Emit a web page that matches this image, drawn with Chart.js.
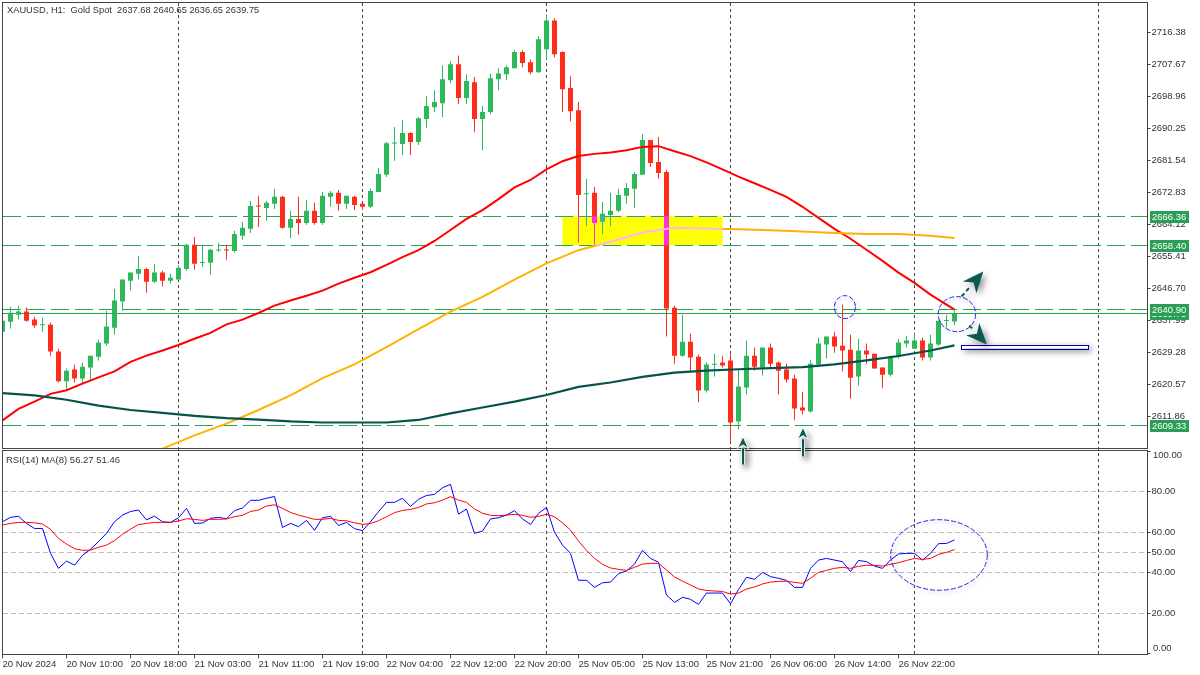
<!DOCTYPE html>
<html>
<head>
<meta charset="utf-8">
<title>XAUUSD H1</title>
<script src="https://cdn.jsdelivr.net/npm/chart.js@4/dist/chart.umd.min.js"></script>
<style>
html, body { margin: 0; padding: 0; background: #fff; }
#wrap { width: 1200px; height: 675px; }
</style>
</head>
<body>
<div id="wrap"><canvas id="chart" width="1200" height="675"></canvas></div>
<script>
// x axis, one label every 8 bars
const timeLabels = ["20 Nov 2024", "20 Nov 10:00", "20 Nov 18:00", "21 Nov 03:00", "21 Nov 11:00", "21 Nov 19:00", "22 Nov 04:00", "22 Nov 12:00", "22 Nov 20:00", "25 Nov 05:00", "25 Nov 13:00", "25 Nov 21:00", "26 Nov 06:00", "26 Nov 14:00", "26 Nov 22:00"]
const priceTicks = [2716.38, 2707.67, 2698.96, 2690.25, 2681.54, 2672.83, 2664.12, 2655.41, 2646.70, 2637.99, 2629.28, 2620.57, 2611.86]
const rsiTicks = [100, 80, 60, 50, 40, 20, 0]
const rsiLevels = [80, 60, 50, 40, 20]
const gridBars = [22, 45, 68, 91, 114, 137]

const barOpen = [2634.9,2637.6,2639.5,2640.4,2638.2,2636.7,2636.8,2629.5,2621.4,2624.6,
2622.2,2625.2,2628.1,2631.7,2636.0,2643.1,2648.8,2650.7,2652.0,2648.5,
2651.0,2648.8,2649.1,2652.0,2658.6,2653.6,2653.7,2657.0,2657.1,2656.9,
2661.0,2662.9,2669.1,2668.6,2669.7,2671.6,2663.2,2665.6,2664.5,2667.8,
2664.5,2671.6,2672.7,2669.7,2671.6,2669.7,2668.9,2672.9,2677.6,2686.1,
2686.0,2689.0,2686.5,2692.8,2696.0,2697.1,2703.3,2707.7,2698.5,2702.8,
2692.8,2694.7,2703.6,2705.0,2706.6,2711.0,2708.2,2705.5,2711.8,2719.6,
2711.0,2701.2,2695.2,2672.3,2672.7,2664.8,2666.7,2667.8,2671.9,2673.8,
2677.6,2687.1,2681.1,2678.4,2641.4,2628.4,2632.2,2628.1,2618.9,2625.9,
2626.5,2627.1,2610.5,2619.7,2628.4,2625.2,2630.6,2626.5,2624.6,2622.2,
2614.3,2613.2,2626.0,2631.4,2633.6,2631.1,2630.0,2622.7,2629.8,2628.9,
2625.2,2623.2,2628.1,2631.7,2630.3,2632.5,2627.9,2631.4,2637.8,2637.68]
const barHigh = [2638.2,2641.7,2642.0,2641.5,2639.0,2638.7,2637.4,2630.3,2624.9,2626.0,
2626.5,2628.4,2632.8,2640.6,2646.6,2649.1,2651.0,2655.6,2652.3,2653.4,
2651.5,2650.7,2653.1,2658.8,2660.7,2658.6,2657.5,2659.1,2658.6,2662.4,
2664.8,2670.5,2671.9,2670.5,2673.8,2671.9,2667.8,2671.6,2670.8,2670.0,
2672.9,2673.2,2673.5,2671.9,2671.9,2669.7,2673.8,2679.5,2686.5,2690.6,
2692.5,2689.2,2693.3,2699.0,2700.6,2707.4,2708.5,2710.1,2705.0,2704.2,
2696.3,2705.2,2706.6,2707.4,2711.5,2711.5,2709.0,2715.3,2721.3,2720.2,
2711.2,2704.4,2697.4,2676.5,2674.3,2670.2,2672.7,2673.8,2675.4,2678.4,
2688.7,2687.1,2687.9,2678.9,2642.0,2639.5,2634.4,2628.7,2626.5,2628.9,
2628.4,2628.7,2624.6,2632.5,2630.6,2630.6,2631.7,2626.8,2626.2,2623.2,
2618.6,2627.3,2633.3,2633.6,2634.9,2642.3,2634.1,2633.0,2631.7,2628.9,
2625.2,2628.4,2633.0,2633.8,2634.7,2633.3,2634.1,2637.9,2639.5,2640.65]
const barLow = [2634.9,2635.8,2638.2,2637.6,2636.0,2634.9,2628.4,2621.1,2619.2,2621.1,
2620.8,2621.6,2627.1,2631.1,2634.1,2640.6,2646.1,2649.1,2645.5,2648.2,
2647.2,2648.0,2649.0,2651.5,2651.8,2652.6,2650.4,2656.6,2654.5,2656.4,
2659.9,2661.8,2663.4,2665.1,2668.3,2662.9,2660.4,2661.3,2664.0,2664.0,
2664.0,2668.9,2667.8,2668.3,2668.0,2668.0,2668.6,2672.9,2677.0,2681.4,
2683.0,2683.0,2685.7,2690.3,2694.7,2693.3,2702.5,2696.8,2696.8,2689.2,
2684.3,2694.1,2700.6,2703.4,2706.6,2706.9,2705.0,2705.4,2709.0,2709.6,
2694.7,2692.2,2659.1,2663.7,2658.6,2661.5,2663.7,2667.5,2669.7,2668.6,
2677.6,2679.7,2676.5,2633.6,2626.2,2628.1,2624.1,2615.7,2618.4,2622.7,
2625.2,2604.8,2608.3,2617.8,2624.3,2623.0,2625.2,2617.8,2621.1,2610.8,
2612.4,2612.9,2626.0,2627.6,2629.2,2624.1,2616.7,2620.3,2626.2,2624.9,
2619.5,2622.7,2627.6,2630.6,2630.3,2627.1,2627.1,2631.1,2636.0,2636.65]
const barClose = [2637.9,2640.1,2640.4,2637.9,2636.6,2636.8,2629.5,2621.4,2624.3,2622.2,
2625.4,2628.4,2632.0,2636.3,2643.4,2649.1,2651.0,2652.0,2648.5,2651.0,
2648.8,2649.6,2652.3,2658.6,2653.4,2653.7,2657.2,2657.1,2657.0,2661.5,
2663.2,2669.1,2669.0,2670.0,2671.6,2663.2,2665.6,2664.5,2667.8,2664.5,
2671.9,2672.7,2669.7,2671.9,2669.4,2668.9,2673.2,2677.8,2686.2,2686.2,
2689.0,2686.5,2693.0,2696.3,2697.4,2703.6,2707.7,2698.5,2703.1,2692.8,
2694.7,2703.9,2705.2,2706.9,2711.0,2708.0,2705.5,2714.5,2719.6,2710.4,
2700.9,2694.9,2672.1,2672.4,2664.5,2667.0,2667.8,2672.1,2674.0,2677.8,
2687.1,2680.8,2678.1,2641.2,2628.4,2632.2,2627.9,2618.9,2626.0,2626.0,
2625.7,2610.2,2620.0,2628.4,2625.4,2630.6,2626.2,2624.3,2621.9,2614.0,
2613.5,2626.2,2631.7,2633.6,2630.9,2629.8,2622.4,2629.8,2628.7,2624.9,
2623.2,2628.1,2632.0,2632.5,2632.5,2627.9,2631.7,2637.9,2637.9,2639.75]

// moving averages, every few bars
const maRedBars = [0,2,4,6,8,10,12,14,16,18,20,22,24,26,28,30,32,34,36,38,40,42,44,46,48,50,52,54,56,58,60,62,64,66,68,70,72,74,76,78,80,82,84,86,88,90,92,94,96,98,100,102,104,106,108,110,112,114,116,118,119]
const maRedValues = [2610.8,2613.9,2615.9,2618.0,2619.0,2620.8,2622.5,2624.1,2626.7,2628.4,2629.8,2631.3,2633.0,2634.6,2636.9,2638.2,2640.0,2642.0,2643.4,2644.7,2646.1,2648.0,2649.6,2651.1,2653.1,2655.2,2657.1,2659.6,2662.6,2665.6,2668.0,2671.0,2674.2,2676.2,2679.1,2681.3,2682.7,2683.3,2683.7,2684.3,2685.2,2685.4,2684.0,2682.7,2681.0,2679.1,2677.1,2675.3,2673.5,2671.6,2668.9,2665.9,2662.9,2660.2,2657.2,2654.2,2651.0,2648.2,2645.0,2642.3,2640.9]
const maOrangeBars = [20,24,28,32,36,40,44,48,52,56,60,64,68,72,76,80,84,88,92,96,100,104,108,112,116,119]
const maOrangeValues = [2603.1,2606.7,2609.9,2613.6,2617.6,2622.3,2626.0,2630.7,2635.6,2640.4,2644.4,2649.1,2653.5,2657.1,2659.4,2661.9,2663.2,2663.0,2662.8,2662.5,2662.2,2661.8,2661.5,2661.5,2661.0,2660.4]
const maDarkBars = [0,4,8,12,16,20,24,28,32,36,40,44,48,52,56,60,64,68,72,76,80,84,88,92,96,100,104,108,112,116,119]
const maDarkValues = [2618.2,2617.6,2616.4,2614.8,2613.6,2612.8,2612.0,2611.4,2611.0,2610.5,2610.2,2610.2,2610.2,2610.9,2612.7,2614.3,2615.9,2617.7,2619.9,2621.1,2622.6,2623.8,2624.3,2624.7,2625.0,2625.3,2626.0,2627.1,2628.3,2629.8,2631.2]

const rsiValues = [65.2,67.4,67.9,64.4,61.9,61.9,49.6,42.2,45.8,43.8,
48.6,51.6,55.4,59.5,65.2,68.5,70.3,71.0,66.1,68.0,
65.2,64.9,67.2,71.8,64.4,64.6,66.9,67.4,66.7,70.7,
72.0,75.8,75.8,76.8,77.7,62.4,64.4,62.8,65.9,61.0,
67.2,67.9,63.4,64.9,61.8,60.8,65.2,70.2,74.8,74.8,
76.8,72.8,76.3,78.2,78.7,82.0,83.7,69.0,71.5,59.5,
60.6,66.6,67.2,68.5,70.7,66.6,63.9,69.3,72.3,60.0,
53.7,49.6,36.3,36.3,32.8,35.1,35.4,39.6,40.9,44.3,
51.1,47.1,45.2,29.0,25.4,27.9,26.9,24.4,30.0,30.0,
30.0,24.7,31.7,37.8,36.8,40.2,38.1,37.3,36.3,32.8,
32.8,42.2,46.3,47.1,46.3,45.5,40.6,46.1,45.5,43.3,
42.2,46.3,49.3,49.6,49.6,46.3,49.6,54.4,54.5,56.27]
const rsiMaValues = [63.6,64.4,64.9,64.9,64.7,64.1,61.5,57.0,54.2,51.9,
51.1,51.2,52.6,53.7,55.9,59.0,61.6,63.8,64.4,64.9,
64.9,64.9,65.6,66.7,66.4,65.9,66.4,66.4,66.6,67.7,
68.4,70.3,71.0,73.0,73.6,71.8,69.8,68.5,67.5,66.4,
66.4,66.9,65.9,65.7,64.7,63.9,64.4,65.7,67.7,69.7,
70.8,71.3,72.3,74.0,74.6,75.9,77.6,75.9,74.8,71.5,
69.4,68.4,68.2,68.5,68.9,68.4,67.4,67.9,68.9,67.7,
64.7,61.1,55.7,51.1,47.1,44.2,42.4,41.7,41.2,42.7,
44.3,44.7,44.7,41.4,37.9,35.9,34.0,32.0,31.3,31.0,
30.8,29.5,30.0,32.0,33.0,34.5,35.4,35.8,35.8,35.3,
34.8,37.3,40.2,41.2,42.2,42.7,42.2,43.2,43.7,43.7,
43.3,44.2,45.0,46.1,47.1,46.6,47.1,49.1,50.1,51.46]

// drawn objects on the chart
const dashedLevels = [2666.36, 2658.40, 2640.90, 2609.33]
const bidLevel = 2639.75
const zoneBars = [70, 90]
const circleBars = [105.3, 119.3]
const circlePrices = [2641.6, 2639.7]
const rsiCircleBar = 117.06
const rsiCircleValue = 48.8
const shelfBars = [119.85, 135.7]
const shelfPrices = [2631.4, 2630.4]

const GREEN = "#2eb85c"
const RED = "#ff2d19"
const TEXT = "#333333"
const FONT = "'Liberation Sans'"
const FONT_SIZE = 9.5
const TOTAL_BARS = 144

const barLabels = []
for (let i = 0; i < TOTAL_BARS; i++) {
    barLabels.push(i % 8 == 0 && timeLabels[i / 8] ? timeLabels[i / 8] : "")
}

function sparse(bars, values) {
    const out = new Array(barOpen.length).fill(null)
    bars.forEach((b, k) => { out[b] = values[k] })
    return out
}

const candleColors = barOpen.map((o, i) => barClose[i] >= o ? GREEN : RED)

function drawArrow(ctx, x1, y1, x2, y2, headLen, headWide, halo) {
    const ang = Math.atan2(y2 - y1, x2 - x1)
    const bx = x2 - Math.cos(ang) * headLen
    const by = y2 - Math.sin(ang) * headLen
    const nx = -Math.sin(ang) * headWide / 2
    const ny = Math.cos(ang) * headWide / 2
    ctx.save()
    ctx.shadowColor = "rgba(0,0,0,0.45)"
    ctx.shadowBlur = 6
    ctx.shadowOffsetX = 3
    ctx.shadowOffsetY = 3
    if (halo) {
        ctx.strokeStyle = "#ffffff"
        ctx.lineWidth = 4
        ctx.beginPath()
        ctx.moveTo(x1, y1)
        ctx.lineTo(bx, by)
        ctx.stroke()
    }
    ctx.strokeStyle = "#0b5a50"
    ctx.lineWidth = 2
    if (!halo) ctx.setLineDash([4, 3])
    ctx.beginPath()
    ctx.moveTo(x1, y1)
    ctx.lineTo(bx, by)
    ctx.stroke()
    ctx.setLineDash([])
    ctx.fillStyle = "#0b5a50"
    ctx.beginPath()
    ctx.moveTo(x2, y2)
    ctx.lineTo(bx + nx, by + ny)
    ctx.lineTo(x2 - Math.cos(ang) * headLen * 0.7, y2 - Math.sin(ang) * headLen * 0.7)
    ctx.lineTo(bx - nx, by - ny)
    ctx.closePath()
    ctx.fill()
    if (halo) {
        ctx.shadowColor = "transparent"
        ctx.strokeStyle = "#ffffff"
        ctx.lineWidth = 1
        ctx.stroke()
    }
    ctx.restore()
}

function ellipse(ctx, cx, cy, rx, ry) {
    ctx.save()
    ctx.strokeStyle = "#2a2ae8"
    ctx.lineWidth = 1
    ctx.setLineDash([5, 2])
    ctx.shadowColor = "rgba(0,0,0,0.3)"
    ctx.shadowBlur = 4
    ctx.shadowOffsetX = 2
    ctx.shadowOffsetY = 2
    ctx.beginPath()
    ctx.ellipse(cx, cy, rx, ry, 0, 0, Math.PI * 2)
    ctx.stroke()
    ctx.restore()
}

function priceBox(ctx, y, value) {
    ctx.fillStyle = "#2a9d56"
    ctx.fillRect(1150, Math.floor(y) - 5, 39, 12)
    ctx.fillStyle = "#ffffff"
    ctx.font = FONT_SIZE + "px " + FONT
    ctx.textAlign = "left"
    ctx.textBaseline = "middle"
    ctx.fillText(value.toFixed(2), 1152, Math.floor(y) + 1)
}

function flatPadding(axis) {
    axis.paddingTop = 0
    axis.paddingBottom = 0
    axis.paddingLeft = 0
    axis.paddingRight = 0
}

const chartParts = {
    id: "chartParts",
    beforeDraw(chart) {
        const ctx = chart.ctx
        ctx.save()
        ctx.fillStyle = "#ffffff"
        ctx.fillRect(0, 0, chart.width, chart.height)
        ctx.restore()
    },
    beforeDatasetsDraw(chart) {
        const { ctx, scales } = chart
        const x = scales.x, y = scales.y, r = scales.yRsi
        ctx.save()
        ctx.lineWidth = 1
        // rsi levels
        ctx.strokeStyle = "#bdbdbd"
        ctx.setLineDash([5, 3])
        rsiLevels.forEach(v => {
            const py = Math.floor(r.getPixelForValue(v)) + 0.5
            ctx.beginPath()
            ctx.moveTo(3, py)
            ctx.lineTo(1147, py)
            ctx.stroke()
        })
        // period separators
        ctx.strokeStyle = "#444444"
        ctx.setLineDash([3, 3])
        gridBars.forEach(b => {
            const px = x.getPixelForValue(b)
            ctx.beginPath()
            ctx.moveTo(px, 3)
            ctx.lineTo(px, 654)
            ctx.stroke()
        })
        // support / resistance
        ctx.strokeStyle = "#27a050"
        ctx.setLineDash([18, 6])
        dashedLevels.forEach(v => {
            const py = Math.floor(y.getPixelForValue(v)) + 0.5
            ctx.beginPath()
            ctx.moveTo(3, py)
            ctx.lineTo(1147, py)
            ctx.stroke()
        })
        ctx.setLineDash([])
        const bid = Math.floor(y.getPixelForValue(bidLevel)) + 0.5
        ctx.beginPath()
        ctx.moveTo(3, bid)
        ctx.lineTo(1147, bid)
        ctx.stroke()
        ctx.restore()
    },
    afterDatasetsDraw(chart) {
        const { ctx, scales } = chart
        const x = scales.x, y = scales.y
        // the zone is inverted like the terminal does: yellow on white, magenta on red
        const zx = x.getPixelForValue(zoneBars[0])
        const zw = x.getPixelForValue(zoneBars[1]) - zx
        const zy = y.getPixelForValue(dashedLevels[0])
        const zh = y.getPixelForValue(dashedLevels[1]) - zy
        ctx.save()
        ctx.globalCompositeOperation = "difference"
        ctx.fillStyle = "#0000ff"
        ctx.fillRect(zx, zy, zw, zh)
        ctx.restore()
    },
    afterDraw(chart) {
        const { ctx, scales } = chart
        const x = scales.x, y = scales.y, r = scales.yRsi
        ctx.save()

        // frames
        ctx.strokeStyle = "#444444"
        ctx.lineWidth = 1
        ctx.strokeRect(2.5, 2.5, 1145, 446)
        ctx.strokeRect(2.5, 450.5, 1145, 204)

        // price boxes
        priceBox(ctx, y.getPixelForValue(bidLevel), bidLevel)
        dashedLevels.forEach(v => priceBox(ctx, y.getPixelForValue(v), v))

        // header text
        ctx.fillStyle = TEXT
        ctx.font = "9.3px " + FONT
        ctx.textAlign = "left"
        ctx.textBaseline = "middle"
        ctx.fillText("XAUUSD, H1:  Gold Spot  2637.68 2640.65 2636.65 2639.75", 7, 10)
        ctx.font = FONT_SIZE + "px " + FONT
        ctx.fillText("RSI(14) MA(8) 56.27 51.46", 6, 460)

        // rsi end labels sit inside the pane
        ctx.fillText("100.00", 1153, 455.5)
        ctx.fillText("0.00", 1153, 648.5)

        // circles
        circleBars.forEach((b, k) => {
            const rx = k == 0 ? 10.5 : 18.7
            const ry = k == 0 ? 11.5 : 17.5
            ellipse(ctx, x.getPixelForValue(b), y.getPixelForValue(circlePrices[k]), rx, ry)
        })
        ellipse(ctx, x.getPixelForValue(rsiCircleBar), r.getPixelForValue(rsiCircleValue), 48.3, 35.3)

        // shelf
        const sx = x.getPixelForValue(shelfBars[0])
        const sw = x.getPixelForValue(shelfBars[1]) - sx
        const sy = y.getPixelForValue(shelfPrices[0])
        const sh = y.getPixelForValue(shelfPrices[1]) - sy
        ctx.save()
        ctx.shadowColor = "rgba(0,0,0,0.6)"
        ctx.shadowBlur = 6
        ctx.shadowOffsetX = 3
        ctx.shadowOffsetY = 3
        ctx.fillStyle = "#ffffff"
        ctx.fillRect(sx, sy, sw, sh)
        ctx.restore()
        ctx.strokeStyle = "#0000aa"
        ctx.strokeRect(Math.round(sx) + 0.5, Math.round(sy) + 0.5, Math.round(sw), Math.round(sh))

        // arrows
        drawArrow(ctx, x.getPixelForValue(119.9), y.getPixelForValue(2644.5), x.getPixelForValue(122.6), y.getPixelForValue(2651.3), 21, 18, false)
        drawArrow(ctx, x.getPixelForValue(120.85), y.getPixelForValue(2636.6), x.getPixelForValue(123.05), y.getPixelForValue(2631.4), 21, 18, false)
        drawArrow(ctx, x.getPixelForValue(92.56), y.getPixelForValue(2598.8), x.getPixelForValue(92.56), y.getPixelForValue(2606.4), 12, 11, true)
        drawArrow(ctx, x.getPixelForValue(100.06), y.getPixelForValue(2601.0), x.getPixelForValue(100.06), y.getPixelForValue(2608.9), 12, 11, true)
        ctx.restore()
    }
}

new Chart(document.querySelector("#chart"), {
    type: "bar",
    plugins: [chartParts],
    data: {
        labels: barLabels,
        datasets: [
            { type: "line", label: "MA slow", data: sparse(maDarkBars, maDarkValues), yAxisID: "y", borderColor: "#05534a", borderWidth: 2.2, pointRadius: 0, spanGaps: true, order: 1 },
            { type: "line", label: "MA mid", data: sparse(maOrangeBars, maOrangeValues), yAxisID: "y", borderColor: "#ffb300", borderWidth: 2, pointRadius: 0, spanGaps: true, order: 1 },
            { type: "line", label: "MA fast", data: sparse(maRedBars, maRedValues), yAxisID: "y", borderColor: "#ff0000", borderWidth: 2, pointRadius: 0, spanGaps: true, order: 1 },
            { type: "bar", label: "body", data: barOpen.map((o, i) => [o, barClose[i]]), yAxisID: "y", backgroundColor: candleColors, barThickness: 5, minBarLength: 1, grouped: false, inflateAmount: 0, order: 2 },
            { type: "bar", label: "wick", data: barLow.map((l, i) => [l, barHigh[i]]), yAxisID: "y", backgroundColor: candleColors, barThickness: 1, grouped: false, inflateAmount: 0, order: 3 },
            { type: "line", label: "RSI(14)", data: rsiValues, yAxisID: "yRsi", borderColor: "#0000ff", borderWidth: 1, pointRadius: 0, order: 1 },
            { type: "line", label: "MA(8)", data: rsiMaValues, yAxisID: "yRsi", borderColor: "#ff0000", borderWidth: 1, pointRadius: 0, order: 0 }
        ]
    },
    options: {
        responsive: false,
        animation: false,
        layout: { padding: { left: 2.5, top: 2.5, right: 0, bottom: 0 } },
        plugins: { legend: { display: false }, tooltip: { enabled: false } },
        scales: {
            x: {
                type: "category",
                offset: false,
                afterFit(axis) { axis.height = 20.5; flatPadding(axis) },
                afterBuildTicks(axis) {
                    axis.ticks = axis.ticks.filter(t => barLabels[t.value] != "")
                },
                grid: { drawOnChartArea: false, drawTicks: true, tickLength: 4, color: "#444444", offset: false },
                border: { display: false },
                ticks: {
                    autoSkip: false, maxRotation: 0, align: "start", padding: 0, color: TEXT,
                    font: { family: FONT, size: FONT_SIZE }
                }
            },
            y: {
                position: "right", stack: "panes", stackWeight: 447,
                min: 2602.86, max: 2724.49,
                afterFit(axis) { axis.width = 53.5; flatPadding(axis) },
                afterBuildTicks(axis) { axis.ticks = priceTicks.map(v => ({ value: v })) },
                grid: { drawOnChartArea: false, drawTicks: true, tickLength: 4, color: "#444444" },
                border: { display: false },
                ticks: {
                    autoSkip: false, padding: 1, color: TEXT,
                    font: { family: FONT, size: FONT_SIZE },
                    callback: v => v.toFixed(2)
                }
            },
            yRsi: {
                position: "right", stack: "panes", stackWeight: 205,
                min: -0.35, max: 100.9,
                afterFit(axis) { axis.width = 53.5; flatPadding(axis) },
                afterBuildTicks(axis) { axis.ticks = rsiTicks.map(v => ({ value: v })) },
                grid: { drawOnChartArea: false, drawTicks: true, tickLength: 4, color: "#444444" },
                border: { display: false },
                ticks: {
                    autoSkip: false, padding: 1, color: TEXT,
                    font: { family: FONT, size: FONT_SIZE },
                    callback: v => (v == 100 || v == 0) ? "" : v.toFixed(2)
                }
            }
        }
    }
})
</script>
</body>
</html>
